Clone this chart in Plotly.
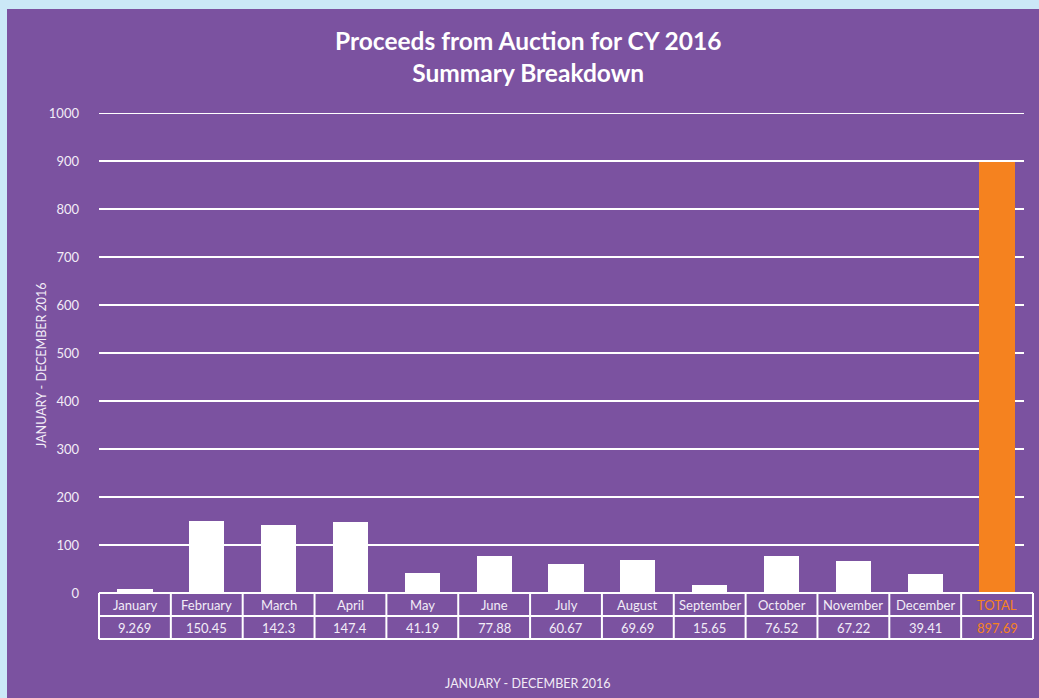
import plotly.graph_objects as go

months = ["January", "February", "March", "April", "May", "June", "July",
          "August", "September", "October", "November", "December", "TOTAL"]
values = [9.269, 150.45, 142.3, 147.4, 41.19, 77.88, 60.67,
          69.69, 15.65, 76.52, 67.22, 39.41, 897.69]
value_labels = ["9.269", "150.45", "142.3", "147.4", "41.19", "77.88", "60.67",
                "69.69", "15.65", "76.52", "67.22", "39.41", "897.69"]
y_ticks = [0, 100, 200, 300, 400, 500, 600, 700, 800, 900, 1000]

PURPLE = "#7B52A0"
ORANGE = "#F5821F"
LIGHT = "#F2ECF7"
BLUE = "#CBE8F7"
FONT = "Lato"

W, H = 1039, 698
L, R, T, B = 99, 6, 113, 105
pw, ph = W - L - R, H - T - B

def px(xp):
    return (xp - L) / pw

def py(yp):
    return (H - B - yp) / ph

colors = ["white"] * (len(months) - 1) + [ORANGE]
n = len(months)

fig = go.Figure()
fig.add_trace(go.Bar(x=months, y=values, marker=dict(color=colors, line=dict(width=0)),
                     width=0.49, hoverinfo="x+y"))

shapes = []
# panel background
shapes.append(dict(type="rect", xref="paper", yref="paper", x0=px(7), x1=px(W + 5),
                   y0=py(H + 5), y1=py(9), fillcolor=PURPLE, line=dict(width=0), layer="below"))
# gridlines
for t in y_ticks[1:]:
    shapes.append(dict(type="line", xref="paper", yref="y", x0=0, x1=px(1024), y0=t, y1=t,
                       line=dict(color="white", width=2), layer="below"))
# table
row1, row2 = py(616), py(639)
for i in range(n + 1):
    shapes.append(dict(type="line", xref="paper", yref="paper", x0=i / n, x1=i / n,
                       y0=row2, y1=0, line=dict(color="white", width=2)))
for yy in [0, row1, row2]:
    shapes.append(dict(type="line", xref="paper", yref="paper", x0=0, x1=1,
                       y0=yy, y1=yy, line=dict(color="white", width=2)))

annotations = []
for i, (m, v) in enumerate(zip(months, value_labels)):
    c = ORANGE if m == "TOTAL" else LIGHT
    annotations.append(dict(x=m, xref="x", yref="paper", y=(0 + row1) / 2, text=m,
                            showarrow=False, font=dict(family=FONT, size=13, color=c),
                            xanchor="center", yanchor="middle"))
    annotations.append(dict(x=m, xref="x", yref="paper", y=(row1 + row2) / 2, text=v,
                            showarrow=False, font=dict(family=FONT, size=13, color=c),
                            xanchor="center", yanchor="middle"))
annotations.append(dict(xref="paper", yref="paper", x=px(41), y=py(365),
                        text="JANUARY - DECEMBER 2016", textangle=-90, showarrow=False,
                        font=dict(family=FONT, size=12.5, color=LIGHT),
                        xanchor="center", yanchor="middle"))
annotations.append(dict(xref="paper", yref="paper", x=px(528), y=py(683),
                        text="JANUARY - DECEMBER 2016", showarrow=False,
                        font=dict(family=FONT, size=12.5, color=LIGHT),
                        xanchor="center", yanchor="middle"))
annotations.append(dict(xref="paper", yref="paper", x=px(528), y=py(56),
                        text="<b>Proceeds from Auction for CY 2016<br>Summary Breakdown</b>",
                        showarrow=False, font=dict(family=FONT, size=24.5, color="white"),
                        xanchor="center", yanchor="middle"))

fig.update_layout(
    width=W, height=H,
    margin=dict(l=L, r=R, t=T, b=B, pad=0),
    paper_bgcolor=BLUE,
    plot_bgcolor="rgba(0,0,0,0)",
    showlegend=False,
    bargap=0,
    shapes=shapes,
    annotations=annotations,
    xaxis=dict(showticklabels=False, showgrid=False, zeroline=False, showline=False,
               ticks="", range=[-0.5, n - 0.5], fixedrange=True),
    yaxis=dict(range=[0, 1000], tickvals=y_ticks, showgrid=False, zeroline=False,
               showline=False, ticks="", ticklabelstandoff=19,
               tickfont=dict(family=FONT, size=13, color=LIGHT), fixedrange=True),
)

fig.write_html("out.html",
               config={"displayModeBar": False},
               post_script="document.body.style.margin='0';document.body.style.overflow='hidden';"
                           "document.body.style.background='" + BLUE + "';")
